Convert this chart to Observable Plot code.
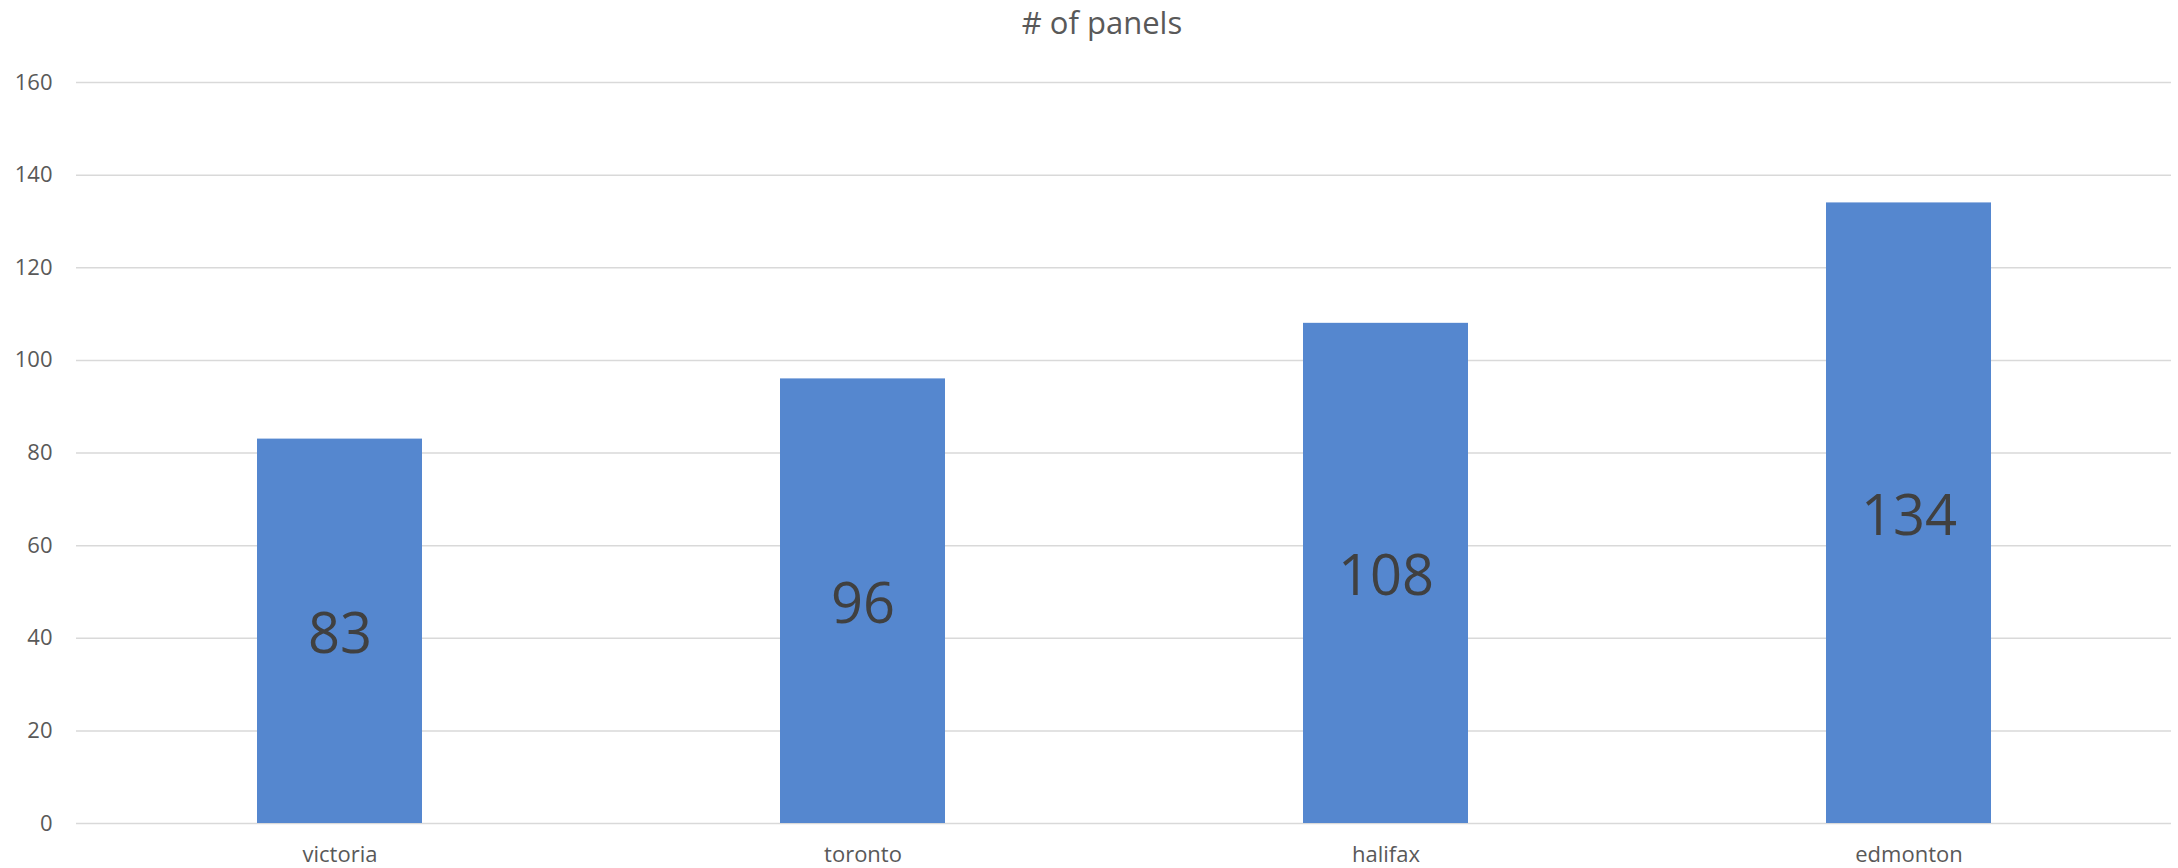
<!DOCTYPE html>
<html>
<head>
<meta charset="utf-8">
<script src="https://cdn.jsdelivr.net/npm/d3@7"></script>
<script src="https://cdn.jsdelivr.net/npm/@observablehq/plot@0.6"></script>
<style>
  html, body { margin: 0; padding: 0; background: #fff; }
  #title {
    width: 2178px; height: 50px; box-sizing: border-box;
    padding-left: 26px; text-align: center;
    font-family: "Open Sans", sans-serif; font-size: 31px; color: #595959;
    line-height: 44px;
  }
</style>
</head>
<body>
<div id="title"># of panels</div>
<div id="chart"></div>
<script>
// Panel counts per city
const cities = ["victoria", "toronto", "halifax", "edmonton"];
const panels = [83, 96, 108, 134];
const yTicks = [0, 20, 40, 60, 80, 100, 120, 140, 160];

const data = cities.map((city, i) => ({city, panels: panels[i]}));

const chart = Plot.plot({
  width: 2178,
  height: 818,
  marginTop: 32,
  marginBottom: 45,
  marginLeft: 76,
  marginRight: 7,
  style: {fontFamily: "Open Sans, sans-serif", background: "#fff"},
  // equal-width category slots, bar filling about a third of each
  x: {domain: cities, paddingInner: 0.685, paddingOuter: 0.3425, align: 0.5},
  y: {domain: [0, 160]},
  marks: [
    Plot.gridY(yTicks, {stroke: "#d9d9d9", strokeOpacity: 1, strokeWidth: 1.5}),
    Plot.axisY(yTicks, {tickSize: 0, tickPadding: 24, fontSize: 22, fill: "#595959", label: null}),
    Plot.axisX({tickSize: 0, tickPadding: 23, fontSize: 22, fill: "#595959", label: null}),
    Plot.barY(data, {x: "city", y: "panels", fill: "#5587cf"}),
    Plot.text(data, {
      x: "city",
      y: d => d.panels / 2,
      text: d => String(d.panels),
      fontSize: 56,
      fill: "#404040",
      dy: 4
    })
  ]
});
document.getElementById("chart").appendChild(chart);
</script>
</body>
</html>
